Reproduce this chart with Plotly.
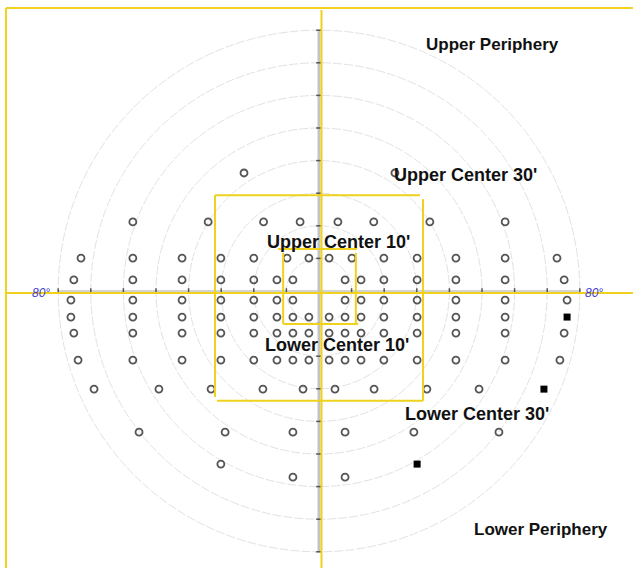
import plotly.graph_objects as go

# ---------------- data (degrees of visual field) ----------------
ring_radii = [10, 20, 30, 40, 50, 60, 70, 80]
axis_ticks = [-80, -70, -60, -50, -40, -30, -20, -10, 10, 20, 30, 40, 50, 60, 70, 80]

row_y = [36.2, 21.2, 10.1, 3.4, -2.8, -8.0, -12.9, -21.2, -30.1, -43.3, -53.1, -57.1]
row_open_x = [
    [-23.0, 23.3],
    [-57.1, -34.0, -17.0, -5.8, 5.8, 16.8, 34.0, 57.1],
    [-73.0, -57.1, -42.0, -30.1, -20.0, -9.8, -3.1, 3.1, 10.1, 19.9, 30.1, 42.0, 57.1, 73.0],
    [-75.2, -57.1, -42.0, -30.1, -20.0, -12.9, -8.0, 8.0, 12.9, 19.9, 30.1, 42.0, 57.1, 75.2],
    [-76.1, -57.1, -42.0, -30.1, -20.0, -12.9, -8.0, 8.0, 12.9, 19.9, 30.1, 42.0, 57.1, 76.1],
    [-76.1, -57.1, -42.0, -30.1, -20.0, -12.9, -8.0, -3.1, 3.1, 8.0, 12.9, 19.9, 30.1, 42.0, 57.1],
    [-75.2, -57.1, -42.0, -30.1, -20.0, -12.9, -8.0, -3.1, 3.1, 8.0, 12.9, 19.9, 30.1, 42.0, 57.1, 75.2],
    [-73.9, -57.1, -42.0, -30.1, -20.0, -12.9, -8.0, -3.1, 3.1, 8.0, 12.9, 19.9, 30.1, 42.0, 57.1, 73.9],
    [-69.0, -49.1, -33.1, -17.2, -4.9, 4.9, 16.9, 33.1, 49.1],
    [-55.2, -28.8, -8.0, 8.0, 29.1, 55.2],
    [-30.1],
    [-8.0, 8.0],
]
filled_x = [76.1, 69.0, 30.1]
filled_y = [-8.0, -30.1, -53.1]

region_labels = ["Upper Periphery", "Upper Center 30'", "Upper Center 10'",
                 "Lower Center 10'", "Lower Center 30'", "Lower Periphery"]
region_label_x = [53.1, 44.9, 6.1, 5.5, 48.6, 68.1]
region_label_y = [75.5, 35.6, 15.0, -16.6, -37.7, -73.3]

# ---------------- build ----------------
open_x, open_y = [], []
for y, xs in zip(row_y, row_open_x):
    open_x.extend(xs)
    open_y.extend([y] * len(xs))

fig = go.Figure()

# axis ticks
fig.add_trace(go.Scatter(x=axis_ticks, y=[0] * len(axis_ticks), mode="markers",
                         marker=dict(symbol="line-ns", size=4, line=dict(width=1.5, color="#555")),
                         hoverinfo="skip", showlegend=False))
fig.add_trace(go.Scatter(x=[0] * len(axis_ticks), y=axis_ticks, mode="markers",
                         marker=dict(symbol="line-ew", size=4, line=dict(width=1.5, color="#555")),
                         hoverinfo="skip", showlegend=False))

fig.add_trace(go.Scatter(x=open_x, y=open_y, mode="markers",
                         marker=dict(symbol="circle-open", size=7, color="#555",
                                     line=dict(width=1.8, color="#555")),
                         showlegend=False))
fig.add_trace(go.Scatter(x=filled_x, y=filled_y, mode="markers",
                         marker=dict(symbol="square", size=7, color="#000"),
                         showlegend=False))

shapes = []
for r in ring_radii:
    shapes.append(dict(type="circle", xref="x", yref="y", x0=-r, y0=-r, x1=r, y1=r,
                       line=dict(color="#e2e2e2", width=1, dash="9px,2px"), layer="below"))
# gray axes
shapes.append(dict(type="line", x0=-80, y0=0, x1=80, y1=0,
                   line=dict(color="#c4c4c4", width=1.5), layer="below"))
shapes.append(dict(type="line", x0=0, y0=-80, x1=0, y1=80,
                   line=dict(color="#c4c4c4", width=3), layer="below"))

yellow = "#f0d21e"
ylines = [
    (-96.0, 86.8, 96.3, 86.8),    # top frame
    (-96.0, 86.8, -96.0, -85.0),  # left frame
    (0.77, 86.2, 0.77, -85.0),    # vertical center
    (-96.3, -0.61, 96.3, -0.61),  # horizontal center
    # center 30 box
    (-31.9, 29.4, 31.0, 29.4),
    (-31.9, 29.4, -31.9, -32.5),
    (-31.3, -33.7, 31.9, -33.7),
    (31.9, 28.2, 31.9, -33.7),
    # center 10 box
    (-12.6, 12.9, 11.7, 12.9),
    (-11.0, 11.7, -11.0, -10.1),
    (-11.0, -10.1, 12.0, -10.1),
    (11.3, 11.7, 11.3, -10.1),
]
for x0, y0, x1, y1 in ylines:
    shapes.append(dict(type="line", x0=x0, y0=y0, x1=x1, y1=y1,
                       line=dict(color=yellow, width=2), layer="above"))

annotations = []
for t, x, y in zip(region_labels, region_label_x, region_label_y):
    size = 17 if "Periphery" in t else 18
    annotations.append(dict(x=x, y=y, text=f"<b>{t}</b>", showarrow=False,
                            xanchor="center", yanchor="middle",
                            font=dict(family="Liberation Sans, Arial, sans-serif", size=size, color="#111")))
for x in (-85.3, 84.4):
    annotations.append(dict(x=x, y=-0.6, text="<i>80°</i>", showarrow=False,
                            xanchor="center", yanchor="middle",
                            font=dict(family="Liberation Sans, Arial, sans-serif", size=12, color="#4040d0")))

fig.update_layout(
    width=633, height=568, margin=dict(l=0, r=0, t=0, b=0),
    paper_bgcolor="white", plot_bgcolor="white",
    xaxis=dict(range=[-97.85, 96.32], visible=False, fixedrange=True),
    yaxis=dict(range=[-84.97, 89.26], visible=False, fixedrange=True),
    shapes=shapes, annotations=annotations, showlegend=False,
)

fig.write_html("out.html")
